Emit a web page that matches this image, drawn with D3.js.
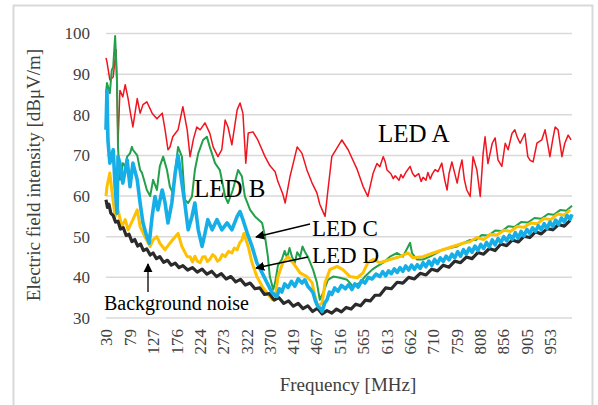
<!DOCTYPE html>
<html lang="en">
<head>
<meta charset="utf-8">
<style>
  body { margin: 0; background: #fff; }
  svg text { font-family: "Liberation Serif", "Times New Roman", serif; }
</style>
<script src="https://d3js.org/d3.v7.min.js"></script>
</head>
<body>
<svg width="598" height="405"></svg>
<script>
// tick labels
var freqTicks = [30, 79, 127, 176, 224, 273, 322, 370, 419, 467, 516, 565, 613, 662, 710, 759, 808, 856, 905, 953];
var dbTicks = [30, 40, 50, 60, 70, 80, 90, 100];

// [MHz, dBuV/m]
var ledA = [[30,94],[32,93],[38,88.6],[45,89.3],[51,96],[53,85],[55,73],[59,86],[65,84.4],[70,87.4],[76,84],[80,81],[86,77],
  [95,84],[101,80.4],[107,82.5],[115,83.2],[126,80.4],[136,79],[147,80.4],[153,76.3],[159,71.4],[163,72],[169,74.6],[180,76.3],
  [190,82],[199,76.3],[205,69.7],[212,74],[219,77],[226,76.3],[236,78],[246,75.5],[253,72.1],[263,69.7],[271,71.4],[278,78.7],
  [284,77],[292,72.6],[303,81.2],[309,82.9],[315,80.4],[321,68.1],[326,75.5],[336,75.8],[346,73.8],[361,69.7],[371,67.5],
  [382,66],[388,63.5],[398,60.5],[403,58.3],[413,64.8],[428,72.1],[438,70.5],[448,66.5],[459,63.2],[469,60.8],[475,58],
  [480,56.6],[486,55],[492,61.5],[500,69.7],[521,73.8],[534,71.4],[553,66.5],[565,62.4],[575,59.9],[586,65.6],[594,68],
  [600,67.2],[607,69.7],[611,68.5],[615,66.4],[623,65.5],[628,64.3],[632,65],[640,63.9],[644,65.3],[648,64.5],[655,66],
  [663,67.3],[668,65.6],[673,64.8],[681,65.5],[686,63.6],[690,64.6],[696,63.9],[700,65.8],[705,64.2],[709,65.4],[715,66.5],
  [721,66],[729,68.1],[735,64],[740,61.5],[744,65.5],[750,68.4],[755,66],[761,63.2],[766,66.5],[771,68.9],[776,64],[781,61.5],
  [788,59.9],[794,69.7],[802,66.4],[809,59.9],[815,70.5],[819,74.6],[825,68],[834,73],[840,74.3],[846,68.9],[854,67.3],
  [861,73],[867,71.4],[875,75.4],[881,76.3],[886,74.5],[892,73],[902,75.4],[908,69.7],[913,68.8],[919,68.4],[927,73],
  [937,73.8],[944,76.3],[950,72.5],[954,69.7],[960,74],[965,77],[971,76.3],[979,69.7],[985,73],[992,75],[998,73.8]];

var ledB = [[30,85.3],[32,87.8],[38,85.3],[42,91],[45,91.8],[49,99.4],[53,87.8],[55,72],[59,64],[63,66.4],[65,68.1],
  [70,67.3],[74,69.7],[80,70.5],[84,72.1],[86,71.4],[95,70],[101,66.4],[105,65.7],[111,63.2],[115,61.5],[122,60],[128,64],
  [136,61.5],[142,67.3],[149,69.7],[157,66.4],[163,62.3],[169,60.8],[180,72.1],[188,69.7],[194,59.1],[201,58.3],[209,59.9],
  [215,66.4],[222,70.5],[232,73.8],[240,74.6],[246,72.1],[257,68.1],[267,66.4],[278,59.9],[284,58.3],[294,61.5],[305,66.4],
  [313,64.8],[319,59.9],[330,56.6],[340,55],[355,53.4],[361,50],[367,45.1],[371,40.2],[378,37],[382,38.7],[388,43],
  [396,44.4],[402,46.5],[407,44.8],[412,47.2],[417,45.1],[423,43.6],[428,46.2],[434,45],[439,47.6],[444,46.3],[450,45.1],
  [461,41.9],[469,38.7],[475,34.5],[482,36.2],[492,39.4],[503,40.2],[517,39.9],[532,39.4],[544,37.8],[559,38.7],[569,40.2],
  [584,41.9],[594,42.7],[607,43.6],[621,45.1],[636,46],[648,45.1],[659,47.6],[663,48.5],[667,46],[677,44.4],[690,44.4],
  [704,45.1],[719,46],[731,46.8],[746,47.2],[761,47.6],[773,48.4],[788,49.2],[800,49.2],[812,50.4],[826,50.3],[840,51.5],
  [854,51.4],[868,52.6],[880,52.4],[894,53.6],[908,53.5],[922,54.6],[936,54.4],[950,55.6],[962,55.4],[976,56.6],[988,56.4],
  [1000,57.6]];

var ledC = [[30,76.3],[32,86],[34,73.8],[38,68.1],[45,71.4],[49,62.3],[53,55.8],[55,69.7],[59,68.1],[65,63.2],[74,68.9],
  [80,62.3],[86,68.1],[95,64],[101,58.3],[107,53.4],[115,50],[120,48.4],[126,55],[132,59.9],[138,56.6],[147,61.5],[153,58.3],
  [159,53.4],[167,58.3],[174,65.7],[180,70],[188,63.2],[194,58.3],[201,51.7],[209,55],[215,58.3],[222,51.7],[230,47.6],
  [236,50.8],[242,54.2],[251,51.7],[261,54.2],[271,51.7],[282,53.4],[292,51.7],[303,55],[309,56.2],[315,54.2],[324,50.9],
  [334,47.6],[344,43.6],[355,41.1],[365,38.7],[376,36.2],[386,35.3],[391,37.2],[396,36.4],[402,38.4],[409,37.5],[416,39],
  [423,37.8],[430,39.6],[438,38.6],[444,39.4],[450,37.8],[456,37],[461,36.2],[466,34.2],[471,32.8],[476,32.4],[480,31.6],
  [485,33.6],[490,34.5],[495,36.4],[500,35.8],[506,37.4],[513,36.6],[520,38],[528,37.2],[535,38.2],[542,37],[548,38.4],
  [555,37.6],[562,39.2],[569,38.6],[576,40],[584,39.6],[592,40.8],[600,40.2],[606,41.4],[612,40.4],[618,41.6],[624,40.9],
  [630,42.1],[636,41.2],[642,42.4],[648,41.5],[654,42.8],[660,41.8],[666,43],[672,42],[678,43.1],[684,42.2],[690,43.6],
  [696,42.6],[702,44],[708,42.9],[714,44.4],[720,43.4],[726,44.8],[732,43.9],[738,45.2],[744,44.3],[750,45.7],[756,44.8],
  [762,46.3],[768,45.2],[774,46.8],[780,45.7],[786,47.2],[792,46.2],[798,47.7],[804,46.6],[810,48.1],[816,47.1],[822,48.6],
  [828,47.5],[834,49.2],[840,48],[846,49.5],[852,48.6],[858,50],[864,49],[870,50.4],[876,49.4],[882,51],[888,49.6],
  [894,51.3],[900,50.2],[906,51.8],[912,50.8],[918,52.2],[924,51.3],[930,52.7],[936,51.7],[942,53.2],[948,52],[954,53.6],
  [960,52.5],[966,54.1],[972,53],[978,54.6],[984,53.6],[990,55.2],[996,54.3],[1000,55.5]];

var ledD = [[30,60],[32,62.3],[38,65.7],[42,61.5],[49,55],[55,56.6],[63,52.5],[70,54.2],[76,51.7],[86,54.2],[95,56.6],
  [101,52.5],[111,50],[122,47.6],[128,49.2],[136,50],[142,48.4],[153,46.8],[163,48.4],[174,50],[180,50.8],[188,47.6],
  [199,45.1],[205,45.1],[210,43.8],[215,45.2],[220,44],[226,43.6],[231,45],[236,45.1],[241,43.9],[246,44.4],[252,45.6],
  [257,45.1],[262,44],[267,44.4],[272,45.6],[278,45.1],[285,46.4],[292,46],[297,47.2],[303,46.8],[308,48.4],[313,49.2],
  [317,50.8],[321,49.4],[326,47.6],[334,43.6],[344,40.2],[355,37.8],[365,36.2],[376,34.5],[382,35],[388,40.2],[398,43.6],
  [409,45.1],[419,43.6],[434,41.1],[448,40.2],[459,38.7],[465,35.3],[471,32.8],[480,33.7],[486,38.7],[496,41.9],[511,42.7],
  [523,41.9],[538,40.2],[553,39.9],[565,41.1],[575,43.6],[586,44.4],[600,43.6],[621,44.4],[642,45.1],[659,46],[669,44.8],
  [690,45.1],[711,46],[731,46.8],[752,47.6],[773,48.4],[788,48.8],[802,49.8],[816,49.3],[830,50.6],[844,50.4],[858,51.6],
  [872,51.3],[886,52.5],[900,52.3],[914,53.4],[928,53.2],[942,54.5],[956,54.2],[970,55.6],[984,55.3],[996,56.6]];

var noise = [[30,59.1],[33,57.2],[36,58],[40,55.8],[45,55.2],[50,53.6],[55,53.8],[60,51.9],[66,52.2],[72,50.3],[78,50.6],
  [84,48.8],[90,49.3],[96,47.7],[102,48.2],[108,46.6],[115,47],[122,45.5],[128,46],[135,44.6],[142,45.1],[150,43.7],
  [158,44.2],[166,43],[174,43.5],[182,42.4],[190,42.9],[200,41.8],[210,42.4],[220,41.3],[230,42],[240,40.8],[250,41.5],
  [260,40.2],[270,40.9],[280,39.6],[290,40.2],[300,38.9],[310,39.5],[320,38.1],[330,38.6],[340,37.2],[350,37.4],[360,35.8],
  [370,36],[380,34.4],[390,35],[400,33.6],[410,34.2],[420,32.9],[430,33.6],[440,32.3],[450,33],[460,31.6],[470,32.4],
  [480,31],[490,31.8],[500,31.2],[510,32.2],[520,31.5],[530,32.6],[540,32.2],[550,33.4],[560,33],[570,34.4],[580,34.2],
  [590,35.6],[600,35.6],[612,37.4],[624,37.2],[636,38.8],[648,38.6],[660,40],[672,39.6],[684,41],[696,40.6],[708,42],
  [720,41.6],[732,43],[744,42.5],[756,44],[768,43.6],[780,45],[792,44.6],[804,46.1],[816,45.7],[828,47.1],[840,46.6],
  [852,48.2],[864,47.8],[876,49.2],[888,48.7],[900,50.1],[912,49.8],[924,51.2],[936,50.7],[948,52],[960,51.7],[972,53],
  [984,52.6],[996,54]];

var svg = d3.select("svg");

svg.append("rect").attr("x", 13.5).attr("y", 5.5).attr("width", 579).attr("height", 402)
  .attr("fill", "#fff").attr("stroke", "#d9d9d9").attr("stroke-width", 2);

var x = d3.scaleLinear().domain([30, 1000]).range([106, 572]);
var y = d3.scaleLinear().domain([30, 100]).range([318, 33.5]);

// gridlines
svg.append("g").selectAll("line").data(dbTicks).enter().append("line")
  .attr("x1", 106).attr("x2", 572)
  .attr("y1", function(d) { return y(d); }).attr("y2", function(d) { return y(d); })
  .attr("stroke", "#d9d9d9").attr("stroke-width", 1.5);

// y axis labels
var yAxis = svg.append("g").attr("transform", "translate(94,0)")
  .call(d3.axisLeft(y).tickValues(dbTicks).tickSize(0).tickPadding(4));
yAxis.select(".domain").remove();
yAxis.attr("font-family", null);
yAxis.selectAll("text").attr("font-size", 17).attr("fill", "#404040");

// x axis labels (rotated)
var xAxis = svg.append("g").attr("transform", "translate(0,318)")
  .call(d3.axisBottom(x).tickValues(freqTicks).tickSize(0).tickFormat(d3.format("d")));
xAxis.select(".domain").remove();
xAxis.attr("font-family", null);
xAxis.selectAll("text").attr("font-size", 17).attr("fill", "#404040")
  .attr("transform", "rotate(-90)").attr("text-anchor", "end")
  .attr("x", -11).attr("y", 0).attr("dy", "0.35em");

var line = d3.line().x(function(d) { return x(d[0]); }).y(function(d) { return y(d[1]); });

var series = [
  { data: ledA, color: "#f0141e", w: 1.5 },
  { data: ledB, color: "#22a04b", w: 2 },
  { data: ledD, color: "#ffc000", w: 3 },
  { data: noise, color: "#2b2b2b", w: 3.2 },
  { data: ledC, color: "#16aee6", w: 3.6 }
];
svg.append("g").selectAll("path").data(series).enter().append("path")
  .attr("d", function(s) { return line(s.data); })
  .attr("fill", "none").attr("stroke", function(s) { return s.color; })
  .attr("stroke-width", function(s) { return s.w; }).attr("stroke-linejoin", "round");

// axis titles
svg.append("text").attr("transform", "translate(40,175) rotate(-90)")
  .attr("text-anchor", "middle").attr("font-size", 19).attr("fill", "#404040")
  .text("Electric field intensity [dBμV/m]");
svg.append("text").attr("x", 348).attr("y", 391)
  .attr("text-anchor", "middle").attr("font-size", 19).attr("fill", "#404040")
  .text("Frequency [MHz]");

// annotations
svg.append("defs").append("marker").attr("id", "head")
  .attr("viewBox", "0 0 10 10").attr("refX", 9).attr("refY", 5)
  .attr("markerWidth", 7).attr("markerHeight", 7).attr("orient", "auto-start-reverse")
  .append("path").attr("d", "M0,0 L10,5 L0,10 z").attr("fill", "#000");

var labels = [
  { t: "LED A", x: 378, y: 142, s: 25 },
  { t: "LED B", x: 194, y: 197, s: 25 },
  { t: "LED C", x: 312, y: 235.5, s: 23 },
  { t: "LED D", x: 312, y: 262.5, s: 23 },
  { t: "Background noise", x: 104, y: 310, s: 20 }
];
svg.append("g").selectAll("text").data(labels).enter().append("text")
  .attr("x", function(d) { return d.x; }).attr("y", function(d) { return d.y; })
  .attr("font-size", function(d) { return d.s; }).attr("fill", "#000")
  .text(function(d) { return d.t; });

var arrows = [[310, 224, 256, 237], [308, 257, 256, 268], [148, 292, 148, 264]];
svg.append("g").selectAll("line").data(arrows).enter().append("line")
  .attr("x1", function(d) { return d[0]; }).attr("y1", function(d) { return d[1]; })
  .attr("x2", function(d) { return d[2]; }).attr("y2", function(d) { return d[3]; })
  .attr("stroke", "#000").attr("stroke-width", 1.3).attr("marker-end", "url(#head)");
</script>
</body>
</html>
